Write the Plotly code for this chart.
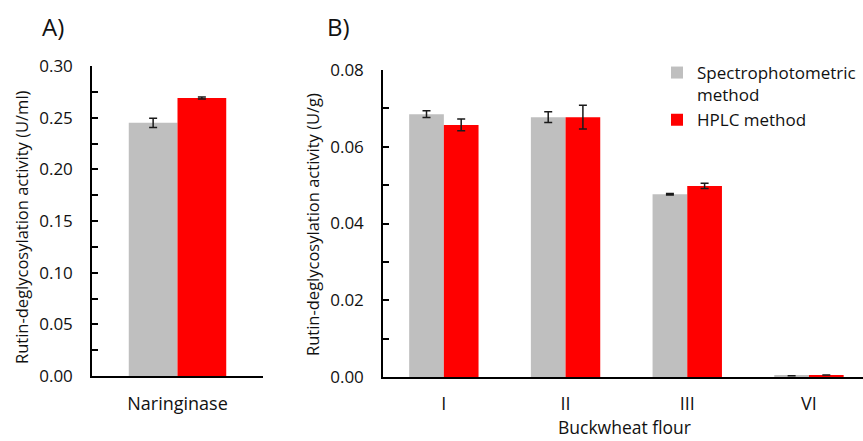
import plotly.graph_objects as go

# ---------------- data ----------------
categories_A = ["Naringinase"]
spectro_A = [0.245]
spectro_A_err = [0.0045]
hplc_A = [0.269]
hplc_A_err = [0.001]

categories_B = ["I", "II", "III", "VI"]
spectro_B = [0.0685, 0.0677, 0.0476, 0.0003]
spectro_B_err = [0.0009, 0.0014, 0.0002, 0.0]
hplc_B = [0.0657, 0.0677, 0.0498, 0.0005]
hplc_B_err = [0.0015, 0.0031, 0.0007, 0.0]

series_names = ["Spectrophotometric<br>method", "HPLC method"]
colors = ["#BFBFBF", "#FF0000"]

W, H = 863, 441
FONT = "Open Sans"
TXT = "#111111"


def px(x):
    return x / W


def py(y):
    return 1 - y / H


def err(vals):
    return dict(type="data", array=vals, visible=True, color="#1a1a1a",
                thickness=1.5, width=4)


fig = go.Figure()

# Panel A
fig.add_trace(go.Bar(x=categories_A, y=spectro_A, error_y=err(spectro_A_err),
                     marker=dict(color=colors[0], line=dict(width=0)),
                     name=series_names[0], showlegend=False,
                     xaxis="x", yaxis="y", offsetgroup="s"))
fig.add_trace(go.Bar(x=categories_A, y=hplc_A, error_y=err(hplc_A_err),
                     marker=dict(color=colors[1], line=dict(width=0)),
                     name=series_names[1], showlegend=False,
                     xaxis="x", yaxis="y", offsetgroup="h"))
# Panel B
fig.add_trace(go.Bar(x=categories_B, y=spectro_B, error_y=err(spectro_B_err),
                     marker=dict(color=colors[0], line=dict(width=0)),
                     name=series_names[0], showlegend=True,
                     xaxis="x2", yaxis="y2", offsetgroup="s"))
fig.add_trace(go.Bar(x=categories_B, y=hplc_B, error_y=err(hplc_B_err),
                     marker=dict(color=colors[1], line=dict(width=0)),
                     name=series_names[1], showlegend=True,
                     xaxis="x2", yaxis="y2", offsetgroup="h"))

axis_common = dict(showline=True, linecolor="black", linewidth=1.5,
                   showgrid=False, zeroline=False, mirror=False,
                   automargin=False)
ytick_font = dict(family=FONT, size=17, color=TXT)
xtick_font = dict(family=FONT, size=18, color=TXT)

fig.update_layout(
    template="none",
    width=W, height=H,
    margin=dict(l=0, r=0, t=0, b=0, pad=0, autoexpand=False),
    paper_bgcolor="white", plot_bgcolor="white",
    barmode="group", bargap=0.43, bargroupgap=0,
    font=dict(family=FONT, size=16, color=TXT),
    xaxis=dict(**axis_common, domain=[px(92), px(263)], anchor="y",
               type="category", range=[-0.5, 0.5], tickfont=xtick_font,
               ticks="inside", tickson="boundaries", ticklen=6,
               tickwidth=1.5, tickcolor="black", ticklabelstandoff=11),
    yaxis=dict(**axis_common, domain=[py(376), py(66)], anchor="x",
               range=[0, 0.30], dtick=0.05, tick0=0, tickformat=".2f",
               tickfont=ytick_font,
               ticks="inside", ticklen=6, tickwidth=1.5, tickcolor="black",
               ticklabelstandoff=14,
               minor=dict(dtick=0.025, tick0=0, ticks="inside", ticklen=6,
                          tickwidth=1.5, tickcolor="black")),
    xaxis2=dict(**axis_common, domain=[px(383), 1.0], anchor="y2",
                type="category", range=[-0.5, 3.444], ticks="",
                tickfont=xtick_font, ticklabelstandoff=10),
    yaxis2=dict(**axis_common, domain=[py(377), py(70)], anchor="x2",
                range=[0, 0.08], dtick=0.02, tick0=0, tickformat=".2f",
                tickfont=ytick_font,
                ticks="inside", ticklen=6, tickwidth=1.5, tickcolor="black",
                ticklabelstandoff=14,
                minor=dict(dtick=0.01, tick0=0, ticks="inside", ticklen=6,
                           tickwidth=1.5, tickcolor="black")),
    legend=dict(x=px(657), y=py(55), xanchor="left", yanchor="top",
                valign="top", bgcolor="rgba(0,0,0,0)", borderwidth=0,
                font=dict(family=FONT, size=17, color=TXT),
                tracegroupgap=0, itemclick=False),
)

annotations = [
    dict(text="A)", x=px(40), y=py(26), xanchor="left", yanchor="middle",
         font=dict(family=FONT, size=24, color=TXT)),
    dict(text="B)", x=px(325), y=py(26), xanchor="left", yanchor="middle",
         font=dict(family=FONT, size=24, color=TXT)),
    dict(text="Rutin-deglycosylation activity (U/ml)", x=px(21), y=py(227),
         xanchor="center", yanchor="middle", textangle=-90,
         font=dict(family=FONT, size=16.5, color=TXT)),
    dict(text="Rutin-deglycosylation activity (U/g)", x=px(312), y=py(225),
         xanchor="center", yanchor="middle", textangle=-90,
         font=dict(family=FONT, size=16.5, color=TXT)),
    dict(text="Buckwheat flour", x=px(624), y=0, xanchor="center",
         yanchor="bottom", font=dict(family=FONT, size=17.5, color=TXT)),
]
for a in annotations:
    a.update(xref="paper", yref="paper", showarrow=False)
fig.update_layout(annotations=annotations)

fig.write_html("out.html")
